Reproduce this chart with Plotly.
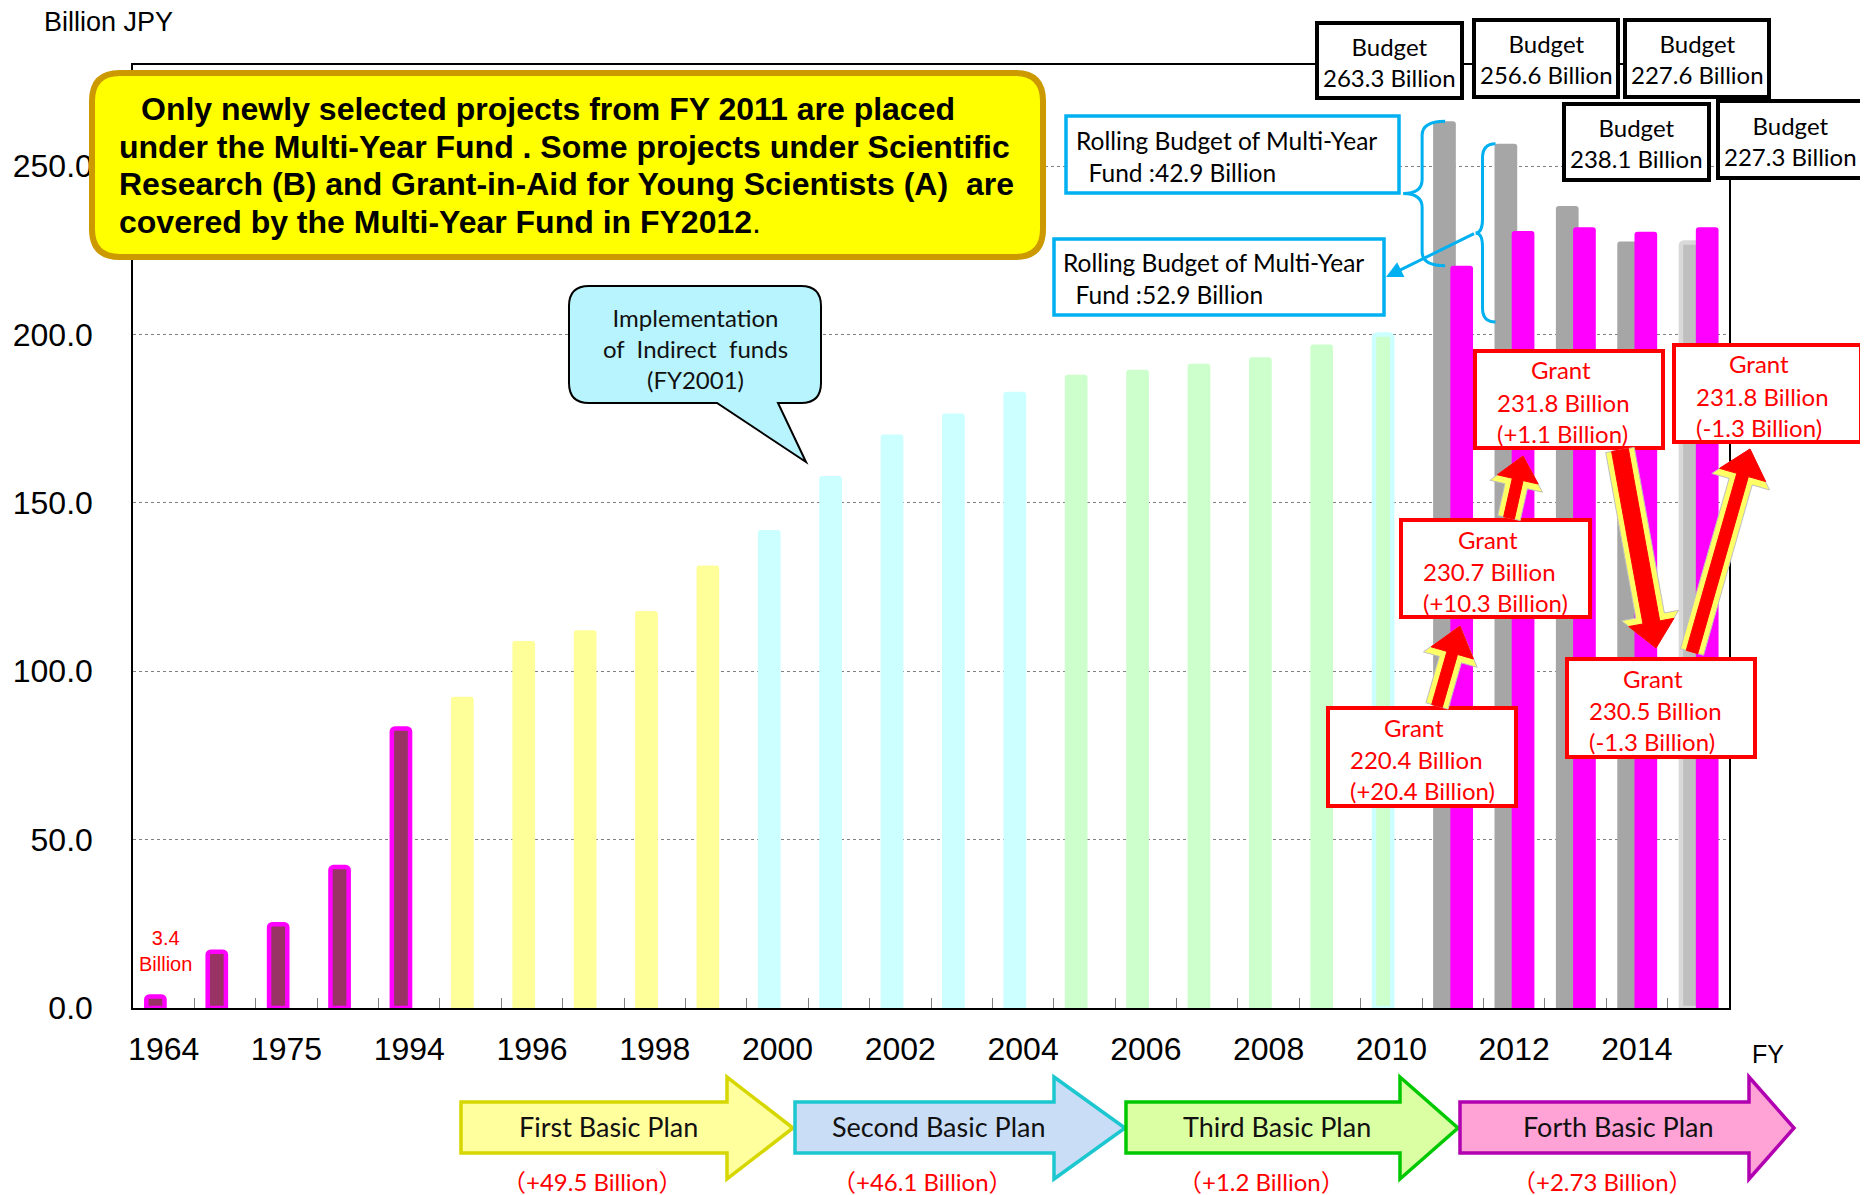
import plotly.graph_objects as go

# ---------------- data ----------------
years = ["1964", "1970", "1975", "1985", "1994", "1995", "1996", "1997", "1998",
         "1999", "2000", "2001", "2002", "2003", "2004", "2005", "2006", "2007",
         "2008", "2009", "2010", "2011", "2012", "2013", "2014", "2015"]
tick_labels = ["1964", "", "1975", "", "1994", "", "1996", "", "1998", "",
               "2000", "", "2002", "", "2004", "", "2006", "", "2008", "",
               "2010", "", "2012", "", "2014", ""]
# amount (1964-2010) and budget (2011-2015), billion JPY
amount_budget = [3.4, 16.7, 24.9, 41.9, 83.0, 92.4, 109.0, 112.2, 117.9, 131.4,
                 141.9, 158.0, 170.3, 176.5, 183.0, 188.0, 189.5, 191.3, 193.2,
                 197.0, 200.0, 263.3, 256.6, 238.1, 227.6, 227.3]
period = ["pre", "pre", "pre", "pre", "pre",
          "first", "first", "first", "first", "first",
          "second", "second", "second", "second", "second",
          "third", "third", "third", "third", "third", "third_end",
          "budget", "budget", "budget", "budget", "budget_est"]
grant_years = ["2011", "2012", "2013", "2014", "2015"]
grant_values = [220.4, 230.7, 231.8, 230.5, 231.8]
budget_years = ["2011", "2012", "2013", "2014", "2015"]
budget_texts = ["263.3 Billion", "256.6 Billion", "238.1 Billion", "227.6 Billion", "227.3 Billion"]
grant_texts = ["220.4 Billion", "230.7 Billion", "231.8 Billion", "230.5 Billion", "231.8 Billion"]
grant_change_texts = ["(+20.4 Billion)", "(+10.3 Billion)", "(+1.1 Billion)", "(-1.3 Billion)", "(-1.3 Billion)"]
rolling_years = ["2011", "2012"]
rolling_values = [42.9, 52.9]
plan_names = ["First Basic Plan", "Second Basic Plan", "Third Basic Plan", "Forth Basic Plan"]
plan_increase = ["（+49.5 Billion）", "（+46.1 Billion）", "（+1.2 Billion）", "（+2.73 Billion）"]
first_value_label = "3.4<br>Billion"

# ---------------- styles ----------------
fill_of = {"pre": "#993366", "first": "#FFFF99", "second": "#CCFFFF", "third": "#CCFFCC",
           "third_end": "#CCFFCC", "budget": "#A6A6A6", "budget_est": "#BFBFBF"}
outline_of = {"pre": "#FF00FF", "third_end": "#CCFFFF", "budget_est": "#D9D9D9"}
OUTLINE_W = 4.5

# page geometry (reference pixel coordinates); the page body adds an 8px offset
PAGE_OFF = 8
W, H = 1868 - PAGE_OFF, 1195 - PAGE_OFF
L, R, T, B = 133, 1729, 65, 1008
YMAX = 280
N = len(years)
CAT = (R - L) / N
BAR_W, LEFT_OFF, GRANT_OFF = 0.37, -0.32, -0.04

def fx(px):
    return (px - L) / (R - L)

def fy(py):
    return (B - py) / (B - T)

def P(px, py):
    return f"{fx(px):.5f},{fy(py):.5f}"

def cat_px(i):
    return L + (i + 0.5) * CAT

def val_py(v):
    return B - v * (B - T) / YMAX

left_colors = [fill_of[p] for p in period]
left_line_colors = [outline_of.get(p, fill_of[p]) for p in period]
left_line_w = [OUTLINE_W if p in outline_of else 0 for p in period]
left_widths = [BAR_W - lw / CAT for lw in left_line_w]
left_offsets = [LEFT_OFF + lw / 2 / CAT for lw in left_line_w]

fig = go.Figure()
fig.add_trace(go.Bar(
    x=years, y=amount_budget, width=left_widths, offset=left_offsets,
    marker=dict(color=left_colors, line=dict(color=left_line_colors, width=left_line_w),
                cornerradius=3),
    showlegend=False, hoverinfo="x+y"))
fig.add_trace(go.Bar(
    x=grant_years, y=grant_values, width=BAR_W, offset=GRANT_OFF,
    marker=dict(color="#FF00FF", line=dict(width=0), cornerradius=3),
    showlegend=False, hoverinfo="x+y"))

shapes = []
annotations = []

def ann(text, px, py, size, color="black", family="Lato", xanchor="center",
        yanchor="middle", align="center"):
    annotations.append(dict(text=text, x=fx(px), y=fy(py), xref="paper", yref="paper",
                            xanchor=xanchor, yanchor=yanchor, align=align, showarrow=False,
                            font=dict(family=family, size=size, color=color)))

def rect(x0, y0, x1, y1, color, lw, fill="white"):
    shapes.append(dict(type="rect", xref="paper", yref="paper", x0=fx(x0), x1=fx(x1),
                       y0=fy(y1), y1=fy(y0), line=dict(color=color, width=lw),
                       fillcolor=fill, layer="above"))

def path(d, color, lw, fill=None):
    s = dict(type="path", xref="paper", yref="paper", path=d,
             line=dict(color=color, width=lw), layer="above")
    if fill:
        s["fillcolor"] = fill
    shapes.append(s)

def rrect_path(x0, y0, x1, y1, r):
    return (f"M {P(x0 + r, y0)} L {P(x1 - r, y0)} Q {P(x1, y0)} {P(x1, y0 + r)} "
            f"L {P(x1, y1 - r)} Q {P(x1, y1)} {P(x1 - r, y1)} L {P(x0 + r, y1)} "
            f"Q {P(x0, y1)} {P(x0, y1 - r)} L {P(x0, y0 + r)} Q {P(x0, y0)} {P(x0 + r, y0)} Z")

# --- yellow note box ---
path(rrect_path(92, 73, 1043, 257, 28), "#CC9900", 6, "#FFFF00")
note_lines = [("<b>Only newly selected projects from FY 2011 are placed</b>", 139, 109),
              ("<b>under the Multi-Year Fund . Some projects under Scientific</b>", 117, 146.5),
              ("<b>Research (B) and Grant-in-Aid for Young Scientists (A)  are</b>", 117, 184),
              ("<b>covered by the Multi-Year Fund in FY2012</b>.", 117, 221.5)]
for t, x, y in note_lines:
    ann(t, x, y, 32, family="Liberation Sans", xanchor="left")

# --- Implementation callout ---
x0, y0, x1, y1, r = 569, 286, 821, 403, 20
callout = (f"M {P(x0 + r, y0)} L {P(x1 - r, y0)} Q {P(x1, y0)} {P(x1, y0 + r)} "
           f"L {P(x1, y1 - r)} Q {P(x1, y1)} {P(x1 - r, y1)} L {P(778, y1)} L {P(806, 462)} "
           f"L {P(717, y1)} L {P(x0 + r, y1)} Q {P(x0, y1)} {P(x0, y1 - r)} "
           f"L {P(x0, y0 + r)} Q {P(x0, y0)} {P(x0 + r, y0)} Z")
path(callout, "black", 2, "#B7F4FD")
ann("Implementation<br>of  Indirect  funds<br>(FY2001)", 695, 349, 24, color="#111111")

# --- rolling budget boxes and braces ---
rect(1066, 116, 1399, 193, "#00B0F0", 3.5)
ann("Rolling Budget of Multi-Year<br>\u00a0\u00a0Fund :" + f"{rolling_values[0]} Billion",
    1074, 156, 24.5, xanchor="left", align="left")
rect(1054, 239, 1384, 315, "#00B0F0", 3.5)
ann("Rolling Budget of Multi-Year<br>\u00a0\u00a0Fund :" + f"{rolling_values[1]} Billion",
    1061, 278.5, 24.5, xanchor="left", align="left")

def brace(xv, xe, xt, yt, yb, r=14):
    ym = (yt + yb) / 2
    return (f"M {P(xe, yt)} Q {P(xv, yt)} {P(xv, yt + r)} L {P(xv, ym - r)} "
            f"Q {P(xv, ym)} {P(xt, ym)} Q {P(xv, ym)} {P(xv, ym + r)} "
            f"L {P(xv, yb - r)} Q {P(xv, yb)} {P(xe, yb)}")

tips = []
for k, (yr, rv) in enumerate(zip(rolling_years, rolling_values)):
    i = years.index(yr)
    top = amount_budget[i]
    edge = cat_px(i) + LEFT_OFF * CAT
    if k == 0:
        xv, xe, xt = edge - 11, edge + 12, edge - 30
    else:
        xv, xe, xt = edge - 12, edge + 1, edge - 19
    yt, yb = val_py(top), val_py(top - rv)
    path(brace(xv, xe, xt, yt, yb), "#00B0F0", 3)
    tips.append((xt, (yt + yb) / 2))

# cyan arrow from brace 2 to box 2
hx, hy = 1386, 277
annotations.append(dict(text="", x=fx(hx), y=fy(hy), xref="paper", yref="paper",
                        showarrow=True, ax=tips[1][0] - hx, ay=tips[1][1] - hy,
                        arrowhead=2, arrowsize=1.1, arrowwidth=3, arrowcolor="#00B0F0",
                        standoff=0, startstandoff=0))

# --- budget boxes ---
budget_boxes = [(1317, 23, 1462, 98), (1474, 20, 1618, 97), (1564, 104, 1709, 180),
                (1625, 20, 1769, 97), (1718, 101, 1862, 178)]
for (bx0, by0, bx1, by1), t in zip(budget_boxes, budget_texts):
    rect(bx0, by0, bx1, by1, "black", 4)
    ann("Budget<br>" + t, (bx0 + bx1) / 2, (by0 + by1) / 2 + 1, 24)

# --- grant boxes ---
grant_boxes = [(1328, 708, 1516, 806), (1401, 520, 1590, 617), (1475, 351, 1663, 448),
               (1567, 659, 1755, 757), (1674, 345, 1861, 442)]
for (gx0, gy0, gx1, gy1), t, c in zip(grant_boxes, grant_texts, grant_change_texts):
    rect(gx0, gy0, gx1, gy1, "#FF0000", 4)
    ann("Grant", (gx0 + gx1) / 2 - 8, gy0 + 19, 24, color="#FF0000")
    ann(t + "<br>" + c, gx0 + 20, gy0 + 67, 24, color="#FF0000", xanchor="left", align="left")

# --- block arrows between grant boxes ---
def block_arrow(tail, tip, shaft, head_w, head_len):
    (tx, ty), (hx_, hy_) = tail, tip
    dx, dy = hx_ - tx, hy_ - ty
    ln = (dx * dx + dy * dy) ** 0.5
    ux, uy = dx / ln, dy / ln
    nx, ny = -uy, ux
    neckx, necky = hx_ - ux * head_len, hy_ - uy * head_len
    pts = [(tx + nx * shaft / 2, ty + ny * shaft / 2),
           (neckx + nx * shaft / 2, necky + ny * shaft / 2),
           (neckx + nx * head_w / 2, necky + ny * head_w / 2),
           (hx_, hy_),
           (neckx - nx * head_w / 2, necky - ny * head_w / 2),
           (neckx - nx * shaft / 2, necky - ny * shaft / 2),
           (tx - nx * shaft / 2, ty - ny * shaft / 2)]
    return "M " + " L ".join(P(a, b) for a, b in pts) + " Z"

arrows = [((1437, 706), (1460, 626), 11, 44, 28),
          ((1509, 518), (1523, 456), 11, 42, 24),
          ((1620, 450), (1656, 648), 17, 46, 26),
          ((1692, 652), (1750, 449), 12, 48, 27)]
for tail, tip, sw, hw, hl in arrows:
    path(block_arrow(tail, tip, sw + 12, hw + 12, hl + 7), "#BFBFBF", 1, "#FFFF66")
    path(block_arrow(tail, tip, sw, hw, hl), "#FF0000", 1, "#FF0000")

# --- plan arrows (bottom) ---
plan_geo = [(461, 727, 793, "#FFFF9E", "#D6D600"),
            (795, 1054, 1125, "#C9DDF6", "#1CC7CF"),
            (1126, 1400, 1458, "#DBFFA3", "#00C800"),
            (1460, 1749, 1794, "#FFA3D6", "#B000B0")]
BT, BB, HT, HB, TY = 1102, 1153, 1077, 1179, 1128
for (xl, xh, xtip, fc, lc), name, inc in zip(plan_geo, plan_names, plan_increase):
    pts = [(xl, BT), (xh, BT), (xh, HT), (xtip, TY), (xh, HB), (xh, BB), (xl, BB)]
    path("M " + " L ".join(P(a, b) for a, b in pts) + " Z", lc, 3.5, fc)
    ann(name, (xl + xh) / 2 + 14, TY - 2, 27, color="#111111")
    ann(inc, (xl + xh) / 2 - 2, 1181, 24, color="#FF0000",
        family="Lato, Noto Sans CJK JP")

# --- free texts ---
ann("Billion JPY", 42, 22, 27, family="Liberation Sans", xanchor="left")
ann("FY", 1768, 1054, 25, family="Liberation Sans")
ann(first_value_label, cat_px(0) + 2, 951, 20, color="#FF0000", family="Liberation Sans")

fig.update_layout(
    width=W, height=H, template="none",
    margin=dict(l=L - PAGE_OFF, r=W - (R - PAGE_OFF), t=T - PAGE_OFF,
                b=H - (B - PAGE_OFF), pad=0, autoexpand=False),
    paper_bgcolor="white", plot_bgcolor="white",
    barmode="overlay", showlegend=False,
    font=dict(family="Liberation Sans", color="black"),
    shapes=shapes, annotations=annotations,
    xaxis=dict(type="category", categoryorder="array", categoryarray=years,
               tickmode="array", tickvals=years, ticktext=tick_labels, tickangle=0,
               tickson="boundaries", ticks="inside", ticklen=10, tickwidth=1,
               tickcolor="#808080", showgrid=False, showline=True, linecolor="black",
               linewidth=1.5, mirror=True, range=[-0.5, N - 0.5], automargin=False,
               tickfont=dict(size=32, family="Liberation Sans"), ticklabelstandoff=12),
    yaxis=dict(range=[0, YMAX], tick0=0, dtick=50, tickformat=".1f", showgrid=True,
               gridcolor="#808080", griddash="dot", gridwidth=1, zeroline=False,
               ticks="", showline=True, linecolor="black", linewidth=1.5, mirror=True,
               automargin=False,
               tickfont=dict(size=32, family="Liberation Sans"), ticklabelstandoff=32),
)

fig.write_html("out.html")
